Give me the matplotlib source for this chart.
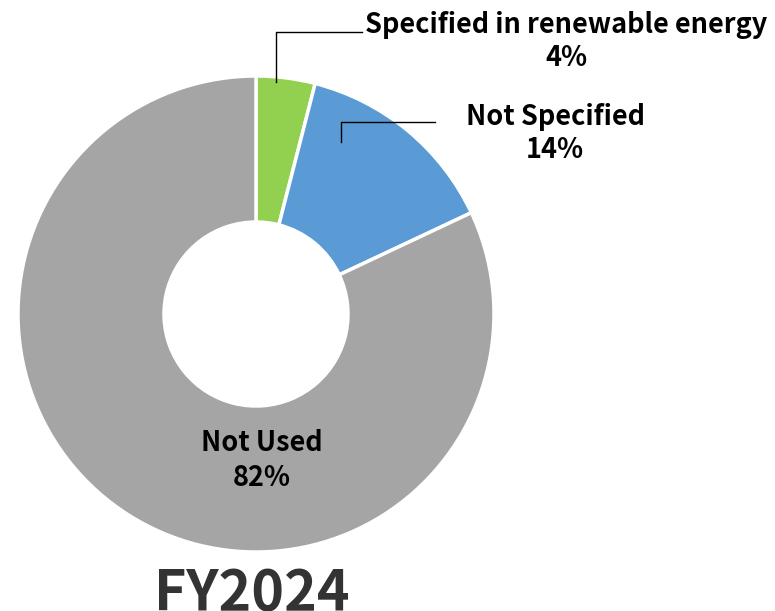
"""
Donut chart: share of renewable energy in electricity use, FY2024.
"""

import matplotlib.pyplot as plt

plt.rcParams['font.family'] = ['Noto Sans CJK JP', 'DejaVu Sans']

categories = ['Specified in renewable energy', 'Not Specified', 'Not Used']
shares = [4, 14, 82]
colours = ['#92D050', '#5B9BD5', '#A5A5A5']
title = 'FY2024'

W, H = 775, 611
fig = plt.figure(figsize=(W / 100, H / 100), dpi=100)
ax = fig.add_axes([0, 0, 1, 1])

cx, cy, r_out, r_in = 256, H - 314, 238, 92
ax.pie(shares, colors=colours, startangle=90, counterclock=False,
       center=(cx, cy), radius=r_out, frame=True,
       wedgeprops=dict(width=r_out - r_in, edgecolor='white', linewidth=2.5))
ax.set_xlim(0, W)
ax.set_ylim(0, H)
ax.set_aspect('equal')
ax.axis('off')

# leader lines
ax.plot([276, 276, 362], [H - 82, H - 32, H - 32], color='black', lw=1)
ax.plot([341, 341, 435], [H - 142, H - 122, H - 122], color='black', lw=1)

fs = 19.5
ax.text(566, H - 25, categories[0], ha='center', va='center', fontsize=fs, fontweight='bold')
ax.text(566, H - 58, f'{shares[0]}%', ha='center', va='center', fontsize=fs, fontweight='bold')
ax.text(555, H - 117, categories[1], ha='center', va='center', fontsize=fs, fontweight='bold')
ax.text(555, H - 150, f'{shares[1]}%', ha='center', va='center', fontsize=fs, fontweight='bold')
ax.text(262, H - 443, categories[2], ha='center', va='center', fontsize=fs, fontweight='bold')
ax.text(262, H - 478, f'{shares[2]}%', ha='center', va='center', fontsize=fs, fontweight='bold')

ax.text(252, H - 594, title, ha='center', va='center', fontsize=40,
        fontweight='bold', color='#333333')

fig.savefig('out.png', dpi=100)
